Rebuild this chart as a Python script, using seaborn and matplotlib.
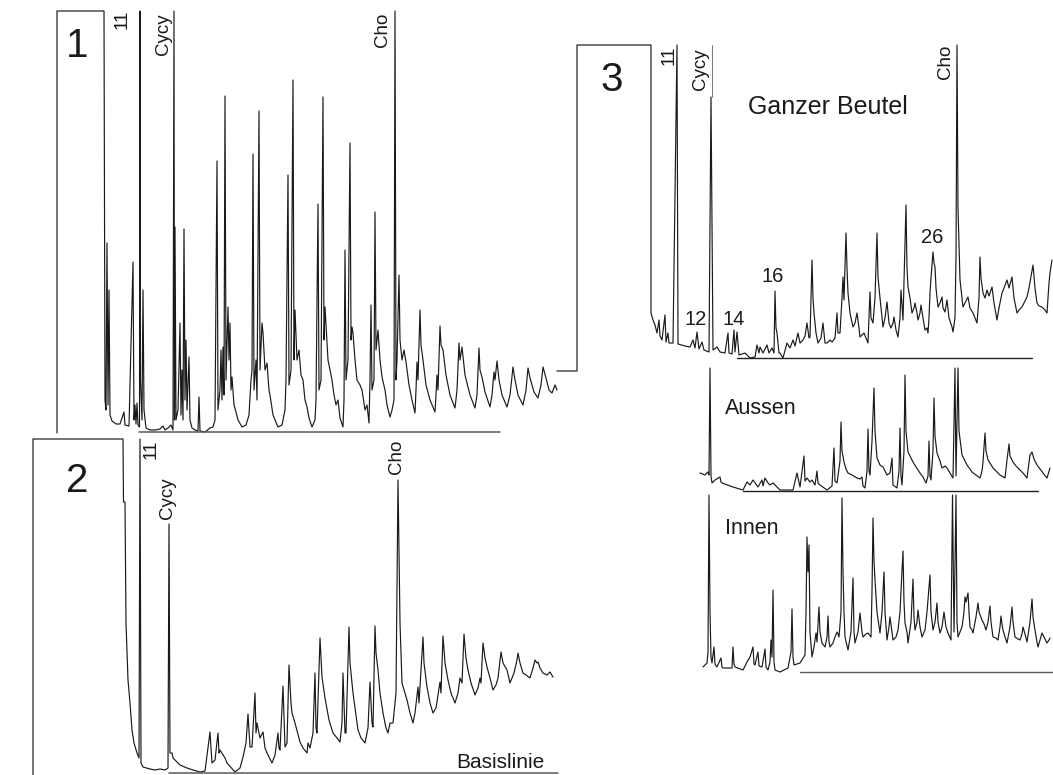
import matplotlib
matplotlib.use("Agg")
import matplotlib.pyplot as plt
import seaborn as sns

# ---------------- data (retention time in min, detector signal in arbitrary units) ----------------
p1_points = [
    (5.7, -1), (5.7, 421), (10.4, 421), (10.5, 32), (10.6, 22), (10.7, 189), (10.8, 27), (10.9, 142),
    (11.0, 17), (11.2, 11), (11.6, 8), (12.0, 8), (12.4, 20), (12.5, 7), (12.9, 6), (13.3, 170),
    (13.4, 12), (13.5, 27), (13.6, 8), (13.7, 29), (13.8, 7), (13.95, 5), (14.0, 421), (14.05, 52),
    (14.2, 12), (14.3, 142), (14.4, 22), (14.6, 4), (15.0, 2), (15.5, 2), (16.0, 3), (16.3, 6),
    (16.5, 2), (16.8, 4), (17.1, 7), (17.3, 2), (17.4, 421), (17.45, 12), (17.5, 205), (17.6, 12),
    (17.8, 22), (18.0, 109), (18.1, 17), (18.2, 62), (18.3, 12), (18.4, 203), (18.5, 32), (18.6, 92),
    (18.7, 22), (18.9, 75), (19.0, 12), (19.2, 4), (19.5, 2), (19.8, 1), (19.9, 35), (20.0, 1),
    (20.5, 0), (21.0, 4), (21.3, 5), (21.5, 12), (21.7, 271), (21.8, 22), (22.0, 42), (22.1, 82),
    (22.2, 32), (22.3, 85), (22.4, 37), (22.5, 336), (22.6, 52), (22.8, 125), (22.9, 72), (23.0, 109),
    (23.1, 42), (23.2, 55), (23.4, 27), (23.6, 20), (23.8, 12), (24.2, 5), (24.6, 7), (24.9, 17),
    (25.1, 52), (25.2, 62), (25.3, 278), (25.4, 42), (25.6, 72), (25.7, 32), (25.9, 321), (26.0, 62),
    (26.2, 109), (26.3, 99), (26.5, 62), (26.7, 69), (26.9, 42), (27.0, 37), (27.3, 17), (27.8, 5),
    (28.2, 7), (28.5, 22), (28.6, 52), (28.8, 257), (28.9, 47), (29.1, 62), (29.3, 352), (29.4, 72),
    (29.5, 122), (29.7, 72), (29.9, 82), (30.1, 57), (30.3, 52), (30.5, 32), (30.7, 25), (30.9, 14),
    (31.2, 5), (31.5, 12), (31.6, 32), (31.8, 228), (31.9, 42), (32.1, 52), (32.3, 335), (32.4, 92),
    (32.5, 125), (32.7, 90), (32.8, 72), (33.0, 62), (33.2, 52), (33.4, 37), (33.6, 27), (33.8, 32),
    (34.0, 14), (34.3, 5), (34.4, 32), (34.5, 182), (34.6, 52), (34.8, 72), (35.0, 289), (35.1, 92),
    (35.2, 105), (35.3, 99), (35.5, 72), (35.7, 52), (36.0, 47), (36.2, 42), (36.5, 22), (36.7, 27),
    (36.9, 9), (37.0, 52), (37.1, 127), (37.2, 42), (37.4, 52), (37.5, 220), (37.6, 82), (37.8, 102),
    (38.0, 72), (38.2, 55), (38.5, 42), (38.7, 27), (39.0, 15), (39.2, 22), (39.4, 32), (39.5, 421),
    (39.6, 52), (39.7, 72), (39.9, 157), (40.0, 92), (40.2, 72), (40.4, 82), (40.6, 70), (40.9, 47),
    (41.2, 32), (41.5, 19), (41.6, 42), (41.7, 70), (41.8, 52), (42.0, 122), (42.1, 87), (42.3, 72),
    (42.6, 47), (43.0, 32), (43.5, 20), (43.6, 37), (43.7, 57), (43.8, 42), (44.0, 106), (44.1, 87),
    (44.3, 82), (44.6, 57), (45.0, 37), (45.5, 24), (45.7, 42), (45.9, 89), (46.0, 72), (46.2, 85),
    (46.5, 57), (47.0, 37), (47.5, 24), (47.7, 37), (47.9, 84), (48.0, 62), (48.2, 55), (48.5, 40),
    (49.0, 25), (49.2, 37), (49.4, 60), (49.5, 52), (49.7, 71), (49.9, 52), (50.2, 37), (50.7, 25),
    (51.0, 37), (51.3, 65), (51.5, 52), (51.8, 37), (52.3, 27), (52.6, 42), (52.8, 64), (53.0, 54),
    (53.4, 40), (53.8, 34), (54.1, 47), (54.3, 65), (54.6, 54), (54.9, 42), (55.2, 39), (55.5, 47),
    (55.7, 42),
]
p1_baseline = [(13.9, 0), (50.0, 0)]

p2_points = [
    (3.3, -2), (3.3, 334), (12.3, 334), (12.35, 271), (12.5, 271), (12.6, 150), (12.8, 93), (13.0, 70),
    (13.2, 43), (13.4, 30), (13.7, 20), (13.9, 15), (14.0, 334), (14.1, 10), (14.3, 6), (15.0, 4),
    (15.5, 3), (16.0, 4), (16.5, 3), (16.8, 5), (16.9, 249), (17.0, 20), (17.2, 20), (17.3, 15),
    (17.5, 13), (18.0, 8), (18.7, 5), (19.3, 3), (20.0, 1), (20.5, 2), (21.0, 41), (21.2, 10),
    (21.5, 13), (21.8, 40), (21.9, 20), (22.0, 23), (22.5, 15), (22.7, 10), (23.5, 1), (24.0, 5),
    (24.3, 16), (24.6, 30), (24.8, 59), (25.0, 26), (25.2, 26), (25.5, 80), (25.6, 40), (25.7, 50),
    (26.0, 35), (26.3, 41), (26.5, 25), (26.7, 20), (27.2, 10), (27.5, 18), (27.8, 40), (27.9, 25),
    (28.0, 23), (28.3, 87), (28.5, 26), (28.7, 30), (28.9, 108), (29.1, 70), (29.2, 60), (29.5, 50),
    (30.0, 31), (30.3, 25), (30.7, 20), (30.8, 30), (31.0, 25), (31.3, 40), (31.5, 100), (31.6, 45),
    (31.7, 40), (32.0, 135), (32.2, 96), (32.5, 75), (32.9, 53), (33.3, 40), (33.7, 35), (34.0, 31),
    (34.2, 50), (34.3, 100), (34.5, 40), (34.6, 40), (34.9, 146), (35.0, 110), (35.3, 80), (35.5, 65),
    (35.8, 43), (36.1, 35), (36.5, 30), (36.8, 45), (37.0, 91), (37.2, 50), (37.3, 46), (37.5, 147),
    (37.6, 120), (37.8, 103), (38.0, 80), (38.3, 60), (38.6, 45), (38.8, 40), (39.0, 50), (39.3, 50),
    (39.6, 80), (39.8, 293), (40.0, 150), (40.2, 90), (40.5, 80), (40.7, 73), (41.0, 60), (41.3, 50),
    (41.5, 60), (41.8, 86), (41.9, 70), (42.3, 136), (42.4, 110), (42.7, 86), (43.0, 70), (43.3, 60),
    (43.6, 65), (44.0, 91), (44.1, 80), (44.3, 137), (44.5, 110), (44.8, 93), (45.1, 80), (45.5, 70),
    (45.8, 80), (46.0, 95), (46.2, 90), (46.4, 139), (46.6, 115), (46.8, 103), (47.1, 90), (47.5, 78),
    (47.8, 85), (48.0, 95), (48.1, 90), (48.3, 130), (48.5, 115), (48.7, 106), (49.0, 95), (49.3, 83),
    (49.6, 88), (49.8, 95), (50.1, 121), (50.3, 110), (50.7, 103), (51.0, 90), (51.4, 100), (51.7, 113),
    (51.8, 120), (52.0, 110), (52.3, 100), (52.6, 98), (53.0, 95), (53.3, 105), (53.5, 113), (53.7, 110),
    (53.8, 111), (54.0, 105), (54.3, 100), (54.7, 98), (55.0, 101), (55.3, 96),
]
p2_baseline = [(16.9, 0), (55.8, 0)]

p3_points = [
    (55.7, -13), (57.7, -13), (57.7, 313), (65.1, 313), (65.1, 45), (65.3, 38), (65.5, 33), (65.7, 25),
    (65.9, 38), (66.0, 22), (66.2, 18), (66.5, 43), (66.6, 16), (66.8, 25), (66.9, 15), (67.3, 15),
    (67.7, 313), (67.8, 14), (68.5, 12), (69.0, 11), (69.3, 18), (69.5, 10), (69.7, 26), (69.9, 9),
    (70.2, 16), (70.4, 8), (70.9, 6), (71.1, 261), (71.3, 8), (71.7, 11), (72.0, 6), (72.5, 5),
    (72.8, 25), (72.9, 5), (73.2, 4), (73.4, 28), (73.5, 6), (73.7, 26), (73.9, 3), (74.5, 5),
    (75.0, 0), (75.5, 1), (75.7, 13), (75.9, 5), (76.0, 11), (76.3, 5), (76.7, 13), (76.9, 5),
    (77.2, 10), (77.4, 5), (77.5, 67), (77.6, 30), (77.7, 25), (77.9, 5), (78.0, 5), (78.3, 0),
    (78.7, 15), (79.0, 10), (79.3, 18), (79.5, 12), (79.8, 25), (80.0, 15), (80.3, 18), (80.5, 22),
    (80.7, 35), (80.9, 20), (81.0, 21), (81.2, 98), (81.3, 60), (81.4, 45), (81.6, 25), (81.8, 15),
    (82.1, 20), (82.3, 35), (82.5, 15), (82.7, 15), (83.0, 18), (83.2, 16), (83.5, 20), (83.7, 45),
    (83.8, 25), (84.0, 25), (84.2, 60), (84.3, 81), (84.4, 58), (84.6, 125), (84.7, 90), (84.8, 65),
    (85.0, 45), (85.3, 31), (85.5, 35), (85.7, 45), (85.9, 30), (86.0, 21), (86.2, 23), (86.4, 25),
    (86.6, 20), (86.8, 15), (87.0, 66), (87.1, 40), (87.3, 35), (87.5, 60), (87.7, 125), (87.8, 81),
    (88.0, 60), (88.3, 31), (88.5, 40), (88.7, 56), (88.9, 35), (89.1, 30), (89.3, 35), (89.4, 41),
    (89.6, 28), (89.8, 21), (90.0, 40), (90.1, 68), (90.3, 38), (90.6, 153), (90.7, 90), (90.8, 71),
    (91.0, 60), (91.2, 45), (91.4, 50), (91.5, 55), (91.7, 45), (91.8, 38), (92.0, 45), (92.1, 53),
    (92.3, 40), (92.5, 28), (92.7, 30), (92.8, 25), (92.9, 40), (93.0, 65), (93.1, 80), (93.3, 106),
    (93.4, 95), (93.5, 91), (93.6, 70), (93.8, 51), (94.0, 55), (94.2, 61), (94.3, 50), (94.5, 46),
    (94.6, 52), (94.7, 58), (94.9, 40), (95.2, 31), (95.3, 26), (95.5, 40), (95.6, 100), (95.7, 313),
    (95.8, 150), (96.0, 78), (96.2, 60), (96.3, 51), (96.5, 55), (96.8, 61), (97.0, 50), (97.3, 45),
    (97.5, 40), (97.7, 35), (97.9, 60), (98.0, 101), (98.1, 80), (98.3, 65), (98.5, 60), (98.7, 68),
    (98.9, 62), (99.2, 71), (99.4, 55), (99.7, 38), (99.9, 50), (100.2, 65), (100.4, 70), (100.7, 78),
    (100.9, 70), (101.2, 81), (101.4, 60), (101.7, 45), (101.9, 48), (102.2, 51), (102.4, 55), (102.7, 61),
    (102.9, 70), (103.3, 93), (103.5, 70), (103.7, 55), (103.9, 52), (104.2, 51), (104.5, 48), (104.7, 45),
    (104.8, 60), (104.9, 75), (105.0, 85), (105.2, 98),
]
p3_baseline = [(73.7, 0), (103.2, 0)]
p3_cycy_leader = [(71.2, 261), (71.2, 313)]

aussen_points = [
    (70.0, 18), (70.5, 16), (70.8, 19), (70.9, 16), (71.0, 123), (71.1, 15), (71.2, 8), (71.5, 11),
    (72.0, 14), (72.1, 9), (72.2, 8), (73.3, 4), (74.3, 1), (74.7, 9), (75.0, 6), (75.3, 11),
    (75.8, 4), (76.2, 11), (76.3, 5), (76.5, 13), (76.8, 8), (77.0, 6), (77.3, 8), (78.0, 1),
    (79.3, 1), (79.7, 18), (80.0, 4), (80.4, 35), (80.5, 10), (80.7, 13), (81.0, 9), (81.2, 11),
    (81.5, 6), (81.7, 20), (81.8, 8), (82.0, 6), (82.7, 1), (83.2, 5), (83.4, 43), (83.5, 10),
    (83.7, 8), (84.0, 30), (84.1, 69), (84.2, 40), (84.4, 29), (84.6, 22), (84.8, 18), (85.2, 16),
    (85.7, 13), (86.0, 12), (86.2, 14), (86.3, 5), (86.5, 3), (86.7, 20), (86.8, 62), (86.9, 20),
    (87.0, 16), (87.2, 50), (87.4, 103), (87.5, 60), (87.7, 33), (88.0, 26), (88.3, 24), (88.7, 16),
    (89.0, 18), (89.2, 33), (89.3, 6), (89.7, 3), (89.9, 20), (90.0, 63), (90.1, 15), (90.2, 6),
    (90.4, 40), (90.5, 116), (90.6, 60), (90.8, 39), (91.0, 35), (91.3, 29), (91.6, 24), (92.0, 18),
    (92.3, 14), (92.6, 8), (92.8, 15), (92.9, 50), (93.0, 15), (93.1, 11), (93.3, 40), (93.4, 93),
    (93.5, 55), (93.7, 38), (94.0, 30), (94.2, 23), (94.5, 25), (94.7, 23), (95.0, 18), (95.3, 13),
    (95.5, 123), (95.6, 15), (95.8, 123), (95.9, 60), (96.2, 36), (96.5, 30), (96.7, 26), (97.0, 22),
    (97.2, 19), (97.6, 16), (98.0, 13), (98.2, 20), (98.3, 29), (98.5, 58), (98.6, 40), (98.8, 31),
    (99.0, 28), (99.3, 23), (99.6, 20), (100.0, 16), (100.5, 13), (100.7, 31), (100.9, 47), (101.0, 35),
    (101.3, 29), (101.6, 25), (102.0, 21), (102.3, 18), (102.7, 13), (103.0, 36), (103.2, 39), (103.4, 32),
    (103.7, 26), (104.0, 22), (104.3, 18), (104.7, 13), (105.0, 23),
]
aussen_baseline = [(74.3, 0), (103.8, 0)]

innen_points = [
    (70.3, 5), (70.7, 9), (70.8, 20), (70.9, 177), (71.0, 60), (71.1, 15), (71.2, 9), (71.4, 25),
    (71.5, 8), (71.7, 5), (72.1, 14), (72.2, 5), (72.3, 4), (73.2, 4), (73.3, 25), (73.4, 8),
    (73.5, 5), (74.3, 2), (74.7, 10), (75.0, 15), (75.3, 25), (75.4, 8), (75.5, 7), (75.8, 20),
    (75.9, 6), (76.2, 5), (76.5, 23), (76.6, 5), (76.8, 2), (77.0, 10), (77.1, 32), (77.2, 15),
    (77.3, 82), (77.4, 10), (77.5, 2), (78.0, 0), (78.8, 4), (79.1, 20), (79.2, 63), (79.3, 15),
    (79.4, 7), (80.0, 9), (80.5, 17), (80.6, 60), (80.7, 135), (80.8, 100), (80.9, 127), (81.0, 40),
    (81.2, 15), (81.4, 25), (81.6, 39), (81.7, 30), (81.9, 65), (82.0, 40), (82.2, 29), (82.5, 25),
    (82.7, 35), (82.8, 56), (82.9, 30), (83.0, 25), (83.3, 29), (83.5, 35), (83.7, 40), (83.8, 38),
    (83.9, 35), (84.1, 60), (84.2, 174), (84.3, 100), (84.4, 60), (84.5, 35), (84.8, 22), (85.1, 40),
    (85.3, 94), (85.4, 40), (85.5, 29), (85.8, 40), (86.0, 59), (86.2, 40), (86.3, 35), (86.6, 38),
    (86.8, 39), (87.1, 35), (87.2, 80), (87.3, 154), (87.4, 110), (87.5, 92), (87.7, 60), (88.0, 39),
    (88.2, 60), (88.4, 100), (88.5, 60), (88.7, 32), (88.9, 45), (89.0, 55), (89.2, 40), (89.3, 32),
    (89.6, 35), (89.8, 42), (90.0, 60), (90.3, 121), (90.4, 70), (90.5, 49), (90.7, 40), (90.8, 29),
    (91.1, 50), (91.3, 93), (91.4, 55), (91.5, 42), (91.7, 50), (91.8, 62), (92.0, 45), (92.2, 35),
    (92.5, 42), (92.7, 60), (93.0, 97), (93.1, 60), (93.3, 42), (93.5, 50), (93.7, 69), (93.8, 50),
    (94.0, 39), (94.2, 45), (94.4, 60), (94.6, 45), (94.8, 39), (95.1, 32), (95.25, 177), (95.4, 40),
    (95.6, 177), (95.7, 50), (95.8, 35), (96.0, 40), (96.2, 45), (96.4, 60), (96.5, 75), (96.6, 70),
    (96.8, 79), (96.9, 60), (97.0, 45), (97.2, 42), (97.3, 39), (97.6, 55), (97.8, 69), (97.9, 60),
    (98.2, 52), (98.4, 48), (98.6, 42), (98.8, 50), (99.0, 66), (99.1, 50), (99.3, 35), (99.6, 34),
    (99.8, 32), (100.0, 45), (100.1, 56), (100.2, 48), (100.3, 42), (100.5, 35), (100.7, 29), (101.0, 45),
    (101.2, 65), (101.3, 50), (101.5, 35), (101.8, 33), (102.0, 32), (102.2, 38), (102.3, 45), (102.5, 38),
    (102.7, 30), (103.0, 50), (103.2, 73), (103.3, 55), (103.5, 42), (103.7, 30), (103.8, 25), (104.0, 32),
    (104.2, 39), (104.4, 35), (104.7, 29), (104.9, 32), (105.0, 34),
]
innen_baseline = [(80.0, 0), (105.3, 0)]

# peak labels (text, retention time, signal at label top)
p1_peak_labels = [("11", 12.25, 422), ("Cycy", 16.4, 419), ("Cho", 38.3, 419)]
p2_peak_labels = [("11", 15.1, 333), ("Cycy", 16.8, 296), ("Cho", 39.7, 333)]
p3_peak_labels = [("11", 66.9, 312), ("Cycy", 70.05, 310), ("Cho", 94.55, 313)]
p3_carbon_labels = [("12", 69.6, 38.5), ("14", 73.4, 38.5), ("16", 77.3, 82), ("26", 93.25, 120.5)]

# ---------------- figure ----------------
W, H = 1053, 775
sns.set_theme(style="white")
plt.rcParams["font.family"] = ["Liberation Sans", "DejaVu Sans"]
fig = plt.figure(figsize=(W / 100, H / 100), dpi=100)
fig.patch.set_facecolor("white")

TRACE = "#1a1a1a"
BASE = "#5a5a5a"
TXT = "#1a1a1a"


def panel_axes(left, right, top, bottom, ref):
    ax = fig.add_axes([left / W, (H - bottom) / H, (right - left) / W, (bottom - top) / H])
    ax.set_xlim(left / 10, right / 10)
    ax.set_ylim(ref - bottom, ref - top)
    ax.axis("off")
    ax.patch.set_alpha(0)
    return ax


def draw(ax, pts, color=TRACE, lw=0.85):
    xs = [p[0] for p in pts]
    ys = [p[1] for p in pts]
    sns.lineplot(x=xs, y=ys, ax=ax, sort=False, estimator=None, color=color,
                 linewidth=lw, legend=False)
    ax.lines[-1].set_clip_on(False)


def peak_labels(ax, labels, size=13.5):
    for t, x, y in labels:
        ax.text(x, y, t, rotation=90, ha="center", va="top", fontsize=size, color=TXT)


# Panel 1
ax1 = panel_axes(50, 560, 10, 440, 432)
draw(ax1, p1_points)
draw(ax1, p1_baseline, BASE, 1.1)
peak_labels(ax1, p1_peak_labels)
ax1.text(7.7, 386, "1", fontsize=29, ha="center", va="center", color=TXT)

# Panel 2
ax2 = panel_axes(25, 560, 438, 775, 773)
draw(ax2, p2_points)
draw(ax2, p2_baseline, BASE, 1.1)
peak_labels(ax2, p2_peak_labels)
ax2.text(7.7, 292, "2", fontsize=29, ha="center", va="center", color=TXT)
ax2.text(54.5, 10, "Basislinie", fontsize=15, ha="right", va="center", color=TXT)

# Panel 3 - Ganzer Beutel
ax3 = panel_axes(550, 1053, 44, 372, 358)
draw(ax3, p3_points)
draw(ax3, p3_baseline, "#222222", 1.0)
draw(ax3, p3_cycy_leader, "#777777", 0.7)
peak_labels(ax3, p3_peak_labels)
ax3.text(61.2, 278, "3", fontsize=29, ha="center", va="center", color=TXT)
ax3.text(82.8, 251, "Ganzer Beutel", fontsize=18, ha="center", va="center", color=TXT)
for t, x, y in p3_carbon_labels:
    ax3.text(x, y, t, fontsize=14.5, ha="center", va="center", color=TXT)

# Aussen
ax4 = panel_axes(695, 1053, 365, 495, 491)
draw(ax4, aussen_points)
draw(ax4, aussen_baseline, "#222222", 1.0)
ax4.text(72.5, 83, "Aussen", fontsize=15.5, ha="left", va="center", color=TXT)

# Innen
ax5 = panel_axes(695, 1053, 493, 680, 672)
draw(ax5, innen_points)
draw(ax5, innen_baseline, BASE, 1.0)
ax5.text(72.5, 144, "Innen", fontsize=15.5, ha="left", va="center", color=TXT)

fig.savefig("out.png", dpi=100, facecolor="white")
